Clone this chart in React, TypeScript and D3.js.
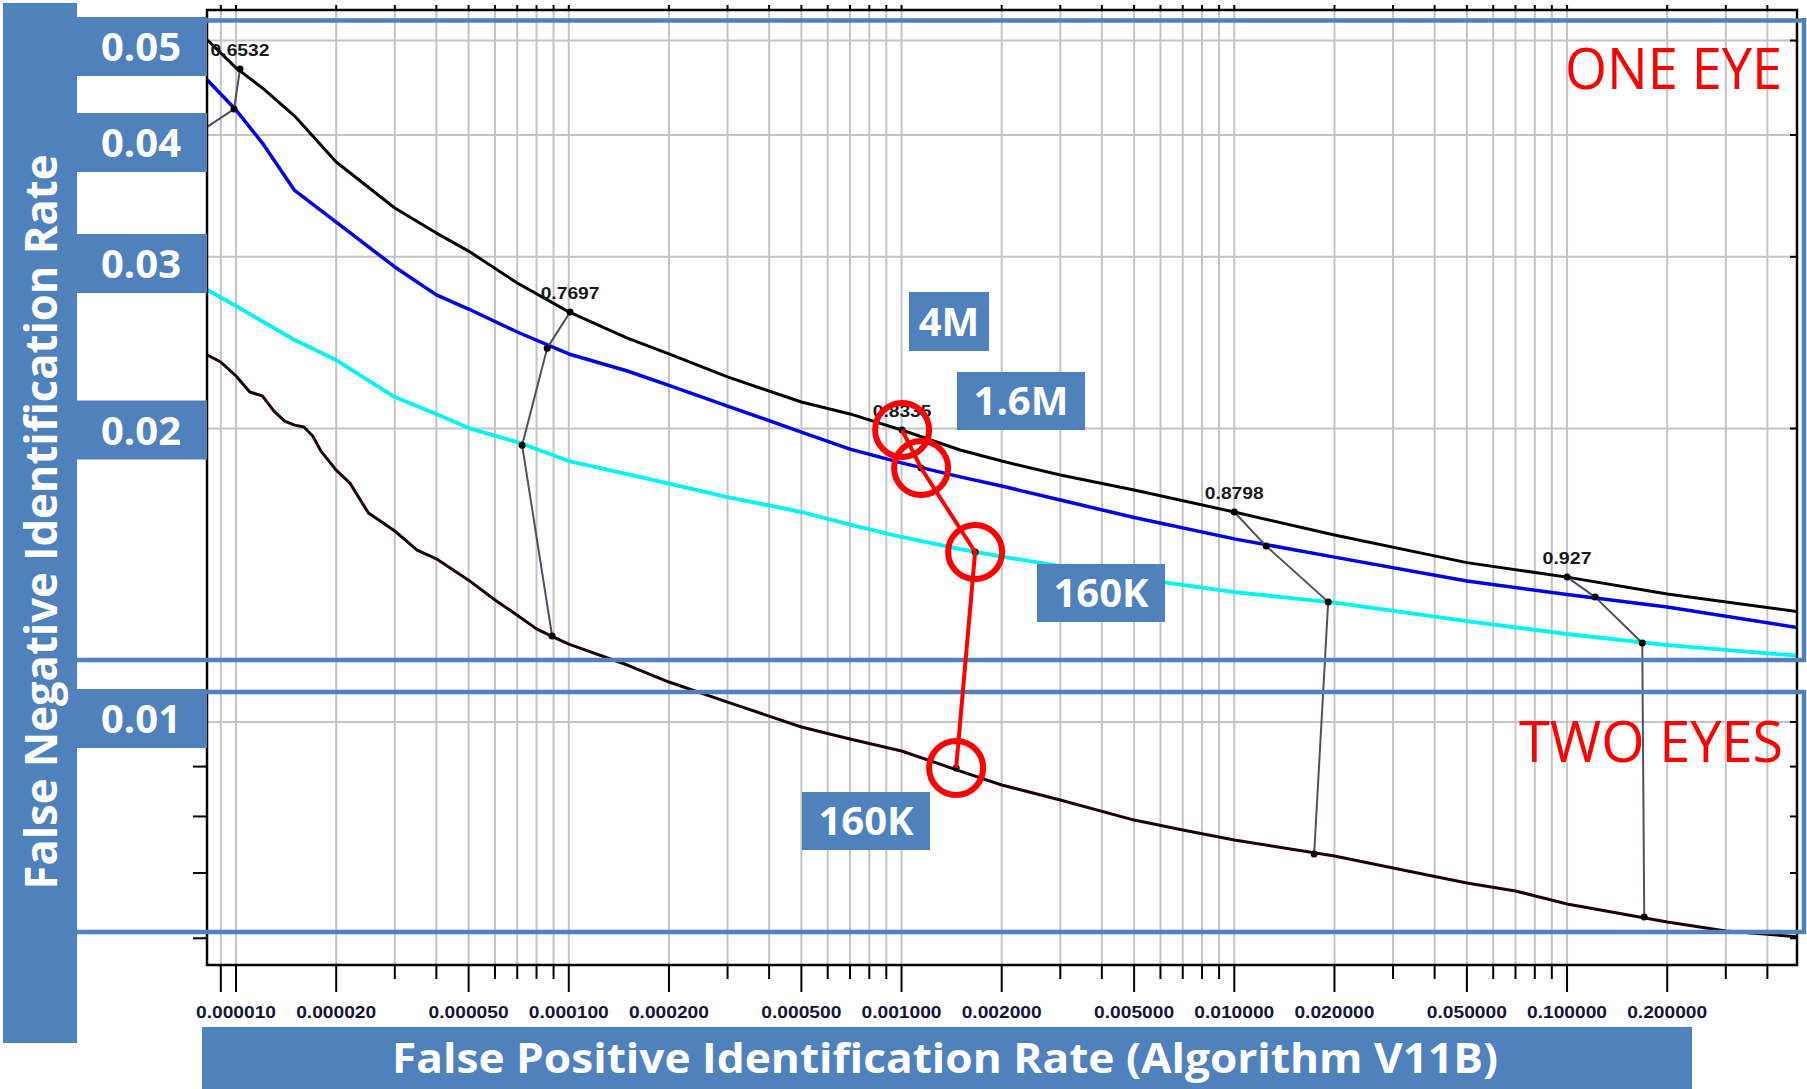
import React from 'react';
import * as d3 from 'd3';

type P = [number, number];

// ---- data (FPIR, FNIR) ----
const oneEye4M: P[] = [
  [8.2e-6, 0.05006], [1e-5, 0.04687], [1.2e-5, 0.0447], [1.5e-5, 0.04183], [2e-5, 0.03753],
  [3e-5, 0.03367], [4e-5, 0.03173], [5e-5, 0.03041], [7e-5, 0.0282], [1e-4, 0.02634],
  [1.5e-4, 0.02476], [2e-4, 0.02385], [3e-4, 0.02259], [5e-4, 0.02129], [7e-4, 0.0207],
  [1e-3, 0.01993], [1.5e-3, 0.01901], [2e-3, 0.01852], [3e-3, 0.01792], [5e-3, 0.0173],
  [1e-2, 0.01642], [2e-2, 0.01555], [5e-2, 0.01457], [1e-1, 0.01408], [2e-1, 0.01353], [5e-1, 0.01297],
];
const oneEye1p6M: P[] = [
  [8.2e-6, 0.04555], [1e-5, 0.04243], [1.2e-5, 0.03925], [1.5e-5, 0.03509], [2e-5, 0.03257],
  [3e-5, 0.02929], [4e-5, 0.02742], [5e-5, 0.02652], [7e-5, 0.02512], [1e-4, 0.02385],
  [1.5e-4, 0.02291], [2e-4, 0.02214], [3e-4, 0.02109], [5e-4, 0.01983], [7e-4, 0.01905],
  [1e-3, 0.01844], [1.5e-3, 0.01784], [2e-3, 0.01746], [3e-3, 0.01689], [5e-3, 0.01621],
  [1e-2, 0.01541], [2e-2, 0.01476], [5e-2, 0.01395], [1e-1, 0.01351], [2e-1, 0.01312], [5e-1, 0.01249],
];
const oneEye160K: P[] = [
  [8.2e-6, 0.02774], [1e-5, 0.02671], [1.5e-5, 0.02465], [2e-5, 0.02351], [3e-5, 0.02154],
  [4e-5, 0.0207], [5e-5, 0.02002], [7e-5, 0.01937], [1e-4, 0.01852], [1.5e-4, 0.01796],
  [2e-4, 0.01756], [3e-4, 0.01701], [5e-4, 0.01642], [7e-4, 0.01594], [1e-3, 0.01548],
  [1.5e-3, 0.01504], [2e-3, 0.01478], [3e-3, 0.01445], [5e-3, 0.01405], [1e-2, 0.01359],
  [2e-2, 0.01326], [5e-2, 0.01269], [1e-1, 0.01231], [2e-1, 0.01199], [5e-1, 0.01169],
];
const twoEyes160K: P[] = [
  [8.2e-6, 0.02379], [9e-6, 0.0234], [1e-5, 0.02264], [1.1e-5, 0.0218], [1.2e-5, 0.0216],
  [1.3e-5, 0.02084], [1.4e-5, 0.02035], [1.5e-5, 0.02016], [1.6e-5, 0.02007], [1.7e-5, 0.01965],
  [1.8e-5, 0.01896], [2e-5, 0.01813], [2.2e-5, 0.01758], [2.5e-5, 0.01638], [3e-5, 0.0157],
  [3.5e-5, 0.01501], [4e-5, 0.0147], [5e-5, 0.01398], [6e-5, 0.01334], [7e-5, 0.01287],
  [8e-5, 0.01246], [9e-5, 0.01222], [1e-4, 0.01202], [1.5e-4, 0.01144], [2e-4, 0.01099],
  [3e-4, 0.01048], [5e-4, 0.009883], [7e-4, 0.009607], [1e-3, 0.009338], [1.5e-3, 0.008906],
  [2e-3, 0.008618], [3e-3, 0.008318], [5e-3, 0.007932], [7e-3, 0.007747], [1e-2, 0.007568],
  [2e-2, 0.007288], [3e-2, 0.007084], [5e-2, 0.006838], [7e-2, 0.00671], [1e-1, 0.006506],
  [2e-1, 0.006236], [3e-1, 0.006105], [5e-1, 0.006019],
];

// threshold connectors: [4M, 1.6M, 160K one eye, 160K two eyes]
const thresholdNames = ['0.6532', '0.7697', '0.8335', '0.8798', '0.927'];
const thr6532: P[] = [[1.028e-5, 0.04675], [9.86e-6, 0.04253], [5.51e-6, 0.03727]];
const thr7697: P[] = [[1.009e-4, 0.02634], [8.61e-5, 0.02418], [7.24e-5, 0.01923], [8.91e-5, 0.01225]];
const thr8335: P[] = [[1.004e-3, 0.01993], [1.145e-3, 0.01822], [1.664e-3, 0.01494], [1.459e-3, 0.008969]];
const thr8798: P[] = [[0.01, 0.01642], [0.01247, 0.01515], [0.01915, 0.01328], [0.01738, 0.007322]];
const thr927: P[] = [[0.1, 0.01408], [0.1215, 0.01343], [0.1683, 0.01205], [0.1706, 0.00631]];
const thresholds = [thr6532, thr7697, thr8335, thr8798, thr927];

const xLabelValues = [1e-5, 2e-5, 5e-5, 1e-4, 2e-4, 5e-4, 1e-3, 2e-3, 5e-3, 1e-2, 2e-2, 5e-2, 0.1, 0.2];
const yGridValues = [0.05, 0.04, 0.03, 0.02, 0.01];
const yTickLabels = ['0.05', '0.04', '0.03', '0.02', '0.01'];
const yMinorValues = [0.009, 0.008, 0.007, 0.006];
const annotationTexts = ['4M', '1.6M', '160K', '160K'];

// ---- layout (pixels) ----
const yBoxCenters = [46.5, 142.5, 263.5, 430, 718.5];
const annotationBoxes = [
  { x: 909, y: 292, w: 80, h: 59 },
  { x: 957, y: 372, w: 128, h: 58 },
  { x: 1037, y: 564, w: 128, h: 58 },
  { x: 802, y: 792, w: 128, h: 58 },
];

const BLUE = '#4f81bd';

export default function App() {
  const W = 1807, H = 1089;
  const L = 207, R = 1797, T = 10, B = 965;
  const x = d3.scaleLog().domain([8.18e-6, 0.491]).range([L, R]);
  const y = d3.scaleLog().domain([0.005633, 0.05374]).range([B, T]);
  const line = d3.line<P>().x(d => x(d[0])).y(d => y(d[1]));

  const xTicks: { v: number; major: boolean }[] = [];
  for (let k = -6; k <= -1; k++) {
    for (let m = 1; m <= 9; m++) {
      const v = +(m * Math.pow(10, k)).toPrecision(3);
      if (v >= 8.5e-6 && v <= 0.45) xTicks.push({ v, major: m === 1 || m === 2 || m === 5 || k === -6 });
    }
  }
  const yTicksAll = [...yGridValues, ...yMinorValues];
  const sans = "'Open Sans', 'Noto Sans', sans-serif";
  const lib = "'Liberation Sans', Arial, sans-serif";

  const series: { d: P[]; c: string; w: number }[] = [
    { d: twoEyes160K, c: '#1c0008', w: 3 },
    { d: oneEye160K, c: '#00f4f4', w: 3.8 },
    { d: oneEye1p6M, c: '#0000e6', w: 3.5 },
    { d: oneEye4M, c: '#000000', w: 3 },
  ];

  return (
    <svg width={W} height={H} style={{ position: 'fixed', left: 0, top: 0, display: 'block', background: '#fff' }}>
      <defs>
        <clipPath id="plot"><rect x={L} y={T} width={R - L} height={B - T} /></clipPath>
      </defs>
      <rect x={0} y={0} width={W} height={H} fill="#fff" />
      {/* gridlines */}
      <g stroke="#c4c4c4" strokeWidth={2}>
        {xTicks.map((t, i) => <line key={'gx' + i} x1={x(t.v)} x2={x(t.v)} y1={T} y2={B} />)}
        {yGridValues.map((v, i) => <line key={'gy' + i} x1={L} x2={R} y1={y(v)} y2={y(v)} />)}
      </g>
      {/* curves */}
      <g clipPath="url(#plot)" fill="none" strokeLinejoin="round">
        {series.map((s, i) => <path key={'s' + i} d={line(s.d) || ''} stroke={s.c} strokeWidth={s.w} />)}
        {thresholds.map((t, i) => <path key={'t' + i} d={line(t) || ''} stroke="#50505e" strokeWidth={2} />)}
        {thresholds.map((t, i) => t.map((p, j) => <circle key={'d' + i + '-' + j} cx={x(p[0])} cy={y(p[1])} r={3.5} fill="#000" />))}
      </g>
      {/* threshold value labels */}
      <g fontFamily={lib} fontWeight="bold" fontSize={16} fill="#1a1a1a" textAnchor="middle">
        {thresholds.map((t, i) => (
          <text key={'tl' + i} x={x(t[0][0])} y={y(t[0][1]) - 13} textLength={thresholdNames[i].length * 9.8} lengthAdjust="spacingAndGlyphs">{thresholdNames[i]}</text>
        ))}
      </g>
      {/* frame */}
      <rect x={L} y={T} width={R - L} height={B - T} fill="none" stroke="#000" strokeWidth={2.5} />
      {/* ticks */}
      <g stroke="#000" strokeWidth={2}>
        {xTicks.map((t, i) => <line key={'xt' + i} x1={x(t.v)} x2={x(t.v)} y1={B} y2={B + (t.major ? 27 : 14)} />)}
        {xTicks.map((t, i) => <line key={'xtt' + i} x1={x(t.v)} x2={x(t.v)} y1={T} y2={T - 5} />)}
        {yTicksAll.map((v, i) => <line key={'yt' + i} x1={L - 14} x2={L} y1={y(v)} y2={y(v)} />)}
        {yTicksAll.map((v, i) => <line key={'ytr' + i} x1={R - 7} x2={R} y1={y(v)} y2={y(v)} />)}
      </g>
      <g fontFamily={lib} fontWeight="bold" fontSize={17} fill="#14143a" textAnchor="middle">
        {xLabelValues.map((v, i) => (
          <text key={'xl' + i} x={x(v)} y={1018} textLength={80} lengthAdjust="spacingAndGlyphs">{v.toFixed(6)}</text>
        ))}
      </g>
      {/* blue frames */}
      <g stroke={BLUE} strokeWidth={4.5} fill="none">
        <line x1={77} x2={1805} y1={20.5} y2={20.5} />
        <line x1={77} x2={1805} y1={660} y2={660} />
        <line x1={77} x2={1805} y1={692} y2={692} />
        <line x1={77} x2={1805} y1={932} y2={932} />
        <line x1={1804} x2={1804} y1={18} y2={662} />
        <line x1={1804} x2={1804} y1={690} y2={934} />
      </g>
      {/* y axis band and labels */}
      <rect x={3} y={3} width={74} height={1040} fill={BLUE} />
      <text transform="translate(57,522) rotate(-90)" textAnchor="middle" fontFamily={sans} fontWeight="bold" fontSize={45} fill="#fff" textLength={735} lengthAdjust="spacingAndGlyphs">False Negative Identification Rate</text>
      {yGridValues.map((v, i) => (
        <g key={'yb' + i}>
          <rect x={77} y={yBoxCenters[i] - 29.5} width={L - 77} height={59} fill={BLUE} />
          <text x={141} y={yBoxCenters[i] + 14.5} textAnchor="middle" fontFamily={sans} fontWeight="bold" fontSize={40} fill="#fff">{yTickLabels[i]}</text>
        </g>
      ))}
      {/* x title */}
      <rect x={202} y={1027} width={1490} height={62} fill={BLUE} />
      <text x={945} y={1073} textAnchor="middle" fontFamily={sans} fontWeight="bold" fontSize={42} fill="#fff" textLength={1106} lengthAdjust="spacingAndGlyphs">False Positive Identification Rate (Algorithm V11B)</text>
      {/* annotation boxes */}
      {annotationBoxes.map((b, i) => (
        <g key={'an' + i}>
          <rect x={b.x} y={b.y} width={b.w} height={b.h} fill={BLUE} />
          <text x={b.x + b.w / 2} y={b.y + b.h / 2 + 14} textAnchor="middle" fontFamily={sans} fontWeight="bold" fontSize={40} fill="#fff">{annotationTexts[i]}</text>
        </g>
      ))}
      {/* red highlight */}
      <path d={line(thr8335) || ''} fill="none" stroke="#ff0000" strokeWidth={4} />
      {thr8335.map((p, i) => <circle key={'rc' + i} cx={x(p[0])} cy={y(p[1])} r={27} fill="none" stroke="#ff0000" strokeWidth={6} />)}
      <text x={1565} y={89} fontFamily={sans} fontSize={56} fill="#ff0000" textLength={217} lengthAdjust="spacingAndGlyphs">ONE EYE</text>
      <text x={1519} y={762} fontFamily={sans} fontSize={56} fill="#ff0000" textLength={264} lengthAdjust="spacingAndGlyphs">TWO EYES</text>
    </svg>
  );
}
